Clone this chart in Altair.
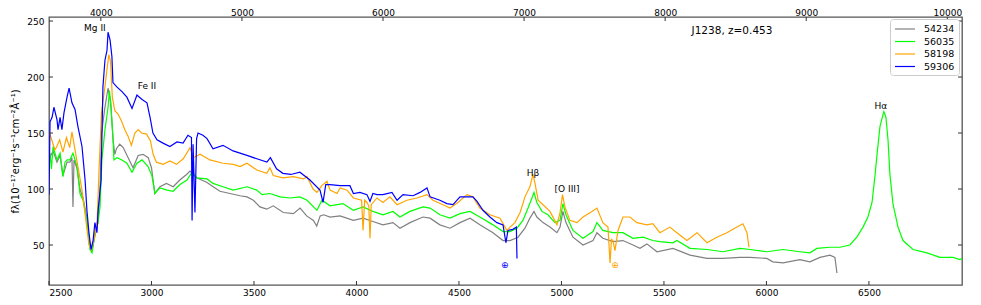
import altair as alt
import pandas as pd

Z = 1.453  # redshift factor (1+z)

mjd_labels = ["54234", "56035", "58198", "59306"]
line_colors = ["#808080", "#00ff00", "#ffa500", "#0000ff"]

# (rest wavelength [A], flux)
spec_54234 = [
    (2503, 128), (2520, 134), (2539, 124), (2554, 130), (2568, 112), (2588, 124), (2602, 124),
    (2612, 128), (2617, 84), (2622, 126), (2637, 118), (2651, 100), (2666, 92), (2685, 74),
    (2700, 48), (2710, 45), (2724, 58), (2739, 70), (2749, 100), (2756, 149), (2772, 172),
    (2788, 190), (2801, 178), (2813, 143), (2821, 131), (2829, 136), (2845, 140), (2862, 137),
    (2886, 128), (2910, 119), (2935, 130), (2959, 131), (2984, 128), (3000, 119), (3016, 96),
    (3041, 102), (3073, 105), (3106, 102), (3138, 108), (3171, 113), (3188, 116), (3220, 110),
    (3269, 106), (3301, 102), (3334, 98), (3383, 96), (3432, 94), (3466, 93), (3497, 90),
    (3529, 84), (3562, 82), (3594, 85), (3643, 79), (3692, 78), (3725, 83), (3757, 76),
    (3790, 72), (3806, 67), (3823, 76), (3840, 77), (3871, 75), (3920, 76), (3985, 72),
    (4032, 74), (4080, 71), (4129, 68), (4178, 70), (4212, 65), (4261, 70), (4324, 75),
    (4359, 74), (4407, 68), (4456, 65), (4505, 70), (4554, 74), (4602, 68), (4666, 61),
    (4715, 54), (4749, 54), (4788, 57), (4822, 65), (4846, 74), (4866, 80), (4880, 75),
    (4910, 70), (4944, 66), (4978, 61), (4993, 66), (5007, 80), (5022, 70), (5056, 57),
    (5105, 50), (5154, 54), (5173, 61), (5202, 56), (5251, 53), (5300, 54), (5349, 50),
    (5383, 47), (5417, 51), (5466, 44), (5544, 47), (5627, 41), (5710, 38), (5788, 38),
    (5871, 39), (5920, 39), (6002, 38), (6031, 35), (6081, 34), (6163, 37), (6212, 35),
    (6261, 39), (6310, 41), (6334, 39), (6344, 25),
]

spec_56035 = [
    (2505, 132), (2512, 118), (2520, 138), (2539, 126), (2554, 132), (2568, 111), (2578, 124),
    (2588, 126), (2602, 126), (2617, 132), (2637, 120), (2651, 96), (2666, 90), (2685, 72),
    (2700, 46), (2710, 43), (2724, 61), (2739, 70), (2749, 84), (2758, 126), (2773, 153),
    (2788, 173), (2795, 188), (2802, 173), (2812, 146), (2817, 126), (2832, 128), (2856, 126),
    (2880, 123), (2905, 115), (2929, 123), (2954, 126), (2983, 120), (3002, 112), (3017, 96),
    (3041, 101), (3076, 99), (3105, 98), (3139, 104), (3173, 108), (3198, 115), (3222, 110),
    (3271, 109), (3300, 105), (3349, 102), (3398, 99), (3466, 102), (3514, 99), (3539, 95),
    (3578, 96), (3627, 93), (3676, 92), (3724, 93), (3759, 90), (3807, 81), (3832, 90),
    (3871, 85), (3934, 87), (3985, 81), (4032, 84), (4080, 80), (4129, 77), (4178, 80),
    (4212, 75), (4261, 80), (4324, 84), (4359, 83), (4407, 77), (4456, 74), (4505, 78),
    (4554, 80), (4602, 75), (4666, 68), (4715, 62), (4749, 62), (4783, 65), (4812, 72),
    (4837, 83), (4856, 92), (4866, 97), (4880, 88), (4905, 80), (4934, 77), (4968, 70),
    (4993, 72), (5007, 87), (5022, 77), (5056, 63), (5105, 56), (5154, 62), (5173, 70),
    (5202, 63), (5251, 61), (5300, 61), (5349, 56), (5398, 57), (5446, 54), (5480, 53),
    (5544, 52), (5563, 54), (5627, 47), (5710, 46), (5788, 44), (5871, 47), (5920, 46),
    (6002, 44), (6081, 46), (6163, 44), (6212, 43), (6246, 47), (6310, 48), (6359, 48),
    (6407, 50), (6441, 57), (6471, 66), (6495, 75), (6515, 88), (6529, 111), (6539, 130),
    (6554, 156), (6568, 166), (6573, 169), (6583, 164), (6593, 144), (6602, 114), (6617, 87),
    (6642, 66), (6666, 54), (6715, 46), (6783, 43), (6846, 39), (6910, 39), (6944, 37),
    (6954, 38),
]

spec_58198 = [
    (2503, 150), (2520, 140), (2529, 135), (2536, 137), (2552, 144), (2568, 133), (2585, 146),
    (2601, 137), (2612, 151), (2627, 135), (2641, 120), (2661, 99), (2676, 78), (2695, 50),
    (2707, 46), (2723, 58), (2735, 72), (2744, 116), (2756, 168), (2772, 190), (2783, 207),
    (2792, 220), (2800, 214), (2809, 182), (2821, 170), (2837, 167), (2853, 161), (2870, 153),
    (2886, 147), (2902, 139), (2919, 150), (2935, 153), (2951, 150), (2976, 149), (2995, 143),
    (3008, 131), (3024, 124), (3057, 122), (3090, 125), (3122, 122), (3155, 127), (3188, 137),
    (3204, 128), (3237, 131), (3285, 126), (3349, 123), (3399, 122), (3432, 120), (3466, 123),
    (3514, 117), (3562, 114), (3578, 119), (3594, 112), (3641, 110), (3692, 111), (3741, 109),
    (3759, 111), (3788, 100), (3807, 97), (3831, 103), (3856, 107), (3871, 99), (3905, 96),
    (3920, 101), (3954, 99), (3985, 92), (4025, 90), (4032, 63), (4040, 90), (4051, 88),
    (4060, 85), (4066, 56), (4072, 86), (4100, 92), (4129, 88), (4163, 93), (4198, 86),
    (4246, 90), (4295, 92), (4344, 95), (4373, 90), (4422, 86), (4456, 83), (4495, 88),
    (4539, 95), (4568, 93), (4602, 83), (4651, 77), (4700, 74), (4734, 63), (4749, 66),
    (4773, 70), (4798, 79), (4822, 93), (4846, 102), (4861, 113), (4871, 105), (4886, 90),
    (4910, 86), (4944, 80), (4978, 68), (4993, 79), (5005, 95), (5017, 84), (5041, 72),
    (5076, 70), (5105, 75), (5149, 80), (5173, 83), (5202, 70), (5227, 66), (5237, 34),
    (5244, 55), (5251, 54), (5261, 45), (5276, 63), (5300, 75), (5334, 75), (5368, 70),
    (5417, 68), (5446, 69), (5480, 61), (5529, 66), (5563, 61), (5612, 54), (5661, 61),
    (5710, 52), (5758, 57), (5807, 61), (5856, 66), (5885, 69), (5905, 61), (5915, 48),
]

spec_59306 = [
    (2500, 95), (2505, 160), (2515, 164), (2524, 173), (2539, 162), (2544, 153), (2554, 164),
    (2563, 153), (2573, 168), (2588, 182), (2598, 190), (2612, 177), (2627, 171), (2641, 156),
    (2661, 138), (2676, 108), (2685, 81), (2695, 61), (2705, 46), (2715, 54), (2724, 70),
    (2734, 61), (2739, 80), (2754, 108), (2763, 191), (2773, 215), (2783, 224), (2788, 240),
    (2798, 233), (2807, 218), (2812, 195), (2832, 191), (2856, 187), (2880, 182), (2905, 172),
    (2929, 184), (2954, 180), (2978, 177), (2993, 164), (3007, 150), (3027, 144), (3056, 141),
    (3090, 138), (3124, 142), (3154, 141), (3178, 148), (3195, 146), (3198, 72), (3203, 140),
    (3212, 79), (3220, 145), (3227, 150), (3251, 148), (3271, 145), (3300, 136), (3349, 139),
    (3398, 134), (3432, 132), (3466, 130), (3514, 127), (3563, 124), (3580, 128), (3610, 118),
    (3641, 114), (3680, 113), (3724, 115), (3773, 108), (3822, 99), (3837, 88), (3850, 104),
    (3871, 104), (3920, 103), (3968, 103), (3985, 96), (4017, 97), (4051, 95), (4066, 89),
    (4080, 96), (4100, 95), (4129, 95), (4173, 97), (4198, 90), (4227, 95), (4276, 94),
    (4310, 97), (4344, 101), (4359, 93), (4407, 90), (4441, 87), (4471, 86), (4505, 93),
    (4539, 93), (4568, 93), (4588, 89), (4617, 81), (4651, 75), (4685, 70), (4715, 68),
    (4729, 52), (4739, 63), (4763, 64), (4780, 66), (4783, 38),
]

spectra = [spec_54234, spec_56035, spec_58198, spec_59306]

# line labels: (text, rest wavelength, flux)
line_labels = [
    ("Mg II", 2724, 244), ("Fe II", 2978, 192), ("H\u03b2", 4861, 114),
    ("[O III]", 5027, 100), ("H\u03b1", 6558, 174),
]
telluric = [("\u2295", 4724, 32, "#0000ff"), ("\u2295", 5261, 32, "#ffa500")]
obj_label = [("J1238, z=0.453", 5832, 241)]

xticks_bottom = [2500, 3000, 3500, 4000, 4500, 5000, 5500, 6000, 6500]
xticks_top_obs = [4000, 5000, 6000, 7000, 8000, 9000, 10000]
yticks = [50, 100, 150, 200, 250]

W, H = 913, 268
FONT = "DejaVu Sans"
xs = alt.Scale(domain=[2500, 6954], nice=False, zero=False)
ys = alt.Scale(domain=[14.3, 253.6], nice=False, zero=False)
cs = alt.Scale(domain=mjd_labels, range=line_colors)

rows = []
for name, spec in zip(mjd_labels, spectra):
    for w, f in spec:
        rows.append({"mjd": name, "wave": w, "flux": f})
df = pd.DataFrame(rows)

legend = alt.Legend(
    title=None, orient="none", legendX=841, legendY=2,
    symbolType="M-1,0L3,0", symbolSize=100, symbolStrokeWidth=1.2,
    labelFont=FONT, labelFontSize=9.5, labelColor="black", labelOffset=18,
    fillColor="white", strokeColor="#cccccc", cornerRadius=3, padding=4, rowPadding=1.5,
)

layers = []
for name in mjd_labels:
    layers.append(
        alt.Chart(df).transform_filter(alt.datum.mjd == name)
        .mark_line(strokeWidth=1.2, clip=True)
        .encode(
            x=alt.X("wave:Q", scale=xs, axis=None),
            y=alt.Y("flux:Q", scale=ys, axis=None),
            color=alt.Color("mjd:N", scale=cs, legend=legend),
        )
    )

df_xb = pd.DataFrame({"v": xticks_bottom})
df_xt = pd.DataFrame({"v": [t / Z for t in xticks_top_obs]})
df_y = pd.DataFrame({"v": yticks})

bottom_ticks = alt.Chart(df_xb).mark_rule(color="#333", strokeWidth=1).encode(
    x=alt.X("v:Q", scale=xs, axis=alt.Axis(
        orient="bottom", values=xticks_bottom, format="d", title=None,
        labelPadding=3, labelFontSize=9, labelFont=FONT, labelColor="black")),
    y=alt.value(H - 4), y2=alt.value(H),
)
top_ticks = alt.Chart(df_xt).mark_rule(color="#333", strokeWidth=1).encode(
    x=alt.X("v:Q", scale=xs, axis=alt.Axis(
        orient="top", values=[t / Z for t in xticks_top_obs], title=None,
        labelExpr="format(round(datum.value*1.453), 'd')",
        labelPadding=2, labelBaseline="alphabetic",
        labelFontSize=9, labelFont=FONT, labelColor="black")),
    y=alt.value(0), y2=alt.value(4),
)
left_ticks = alt.Chart(df_y).mark_rule(color="#333", strokeWidth=1).encode(
    y=alt.Y("v:Q", scale=ys, axis=alt.Axis(
        orient="left", values=yticks, format="d",
        title="f\u03bb(10\u207b\u00b9\u2077erg\u207b\u00b9s\u207b\u00b9cm\u207b\u00b2\u00c5\u207b\u00b9)",
        titleFont=FONT, titleFontSize=10, titleFontWeight="normal", titleColor="black",
        titlePadding=6, labelPadding=5, labelFontSize=9, labelFont=FONT, labelColor="black")),
    x=alt.value(0), x2=alt.value(4),
)
right_ticks = alt.Chart(df_y).mark_rule(color="#333", strokeWidth=1).encode(
    y=alt.Y("v:Q", scale=ys, axis=None),
    x=alt.value(W - 4), x2=alt.value(W),
)

df_lab = pd.DataFrame(line_labels, columns=["t", "x", "y"])
labels = alt.Chart(df_lab).mark_text(font=FONT, fontSize=9, color="black").encode(
    x=alt.X("x:Q", scale=xs, axis=None), y=alt.Y("y:Q", scale=ys, axis=None), text="t:N")

df_tel = pd.DataFrame(telluric, columns=["t", "x", "y", "c"])
tel = alt.Chart(df_tel).mark_text(font=FONT, fontSize=9).encode(
    x=alt.X("x:Q", scale=xs, axis=None), y=alt.Y("y:Q", scale=ys, axis=None), text="t:N",
    color=alt.Color("c:N", scale=None))

df_obj = pd.DataFrame(obj_label, columns=["t", "x", "y"])
obj = alt.Chart(df_obj).mark_text(font=FONT, fontSize=10.5, color="black").encode(
    x=alt.X("x:Q", scale=xs, axis=None), y=alt.Y("y:Q", scale=ys, axis=None), text="t:N")

chart = (
    alt.layer(*layers, labels, tel, obj, bottom_ticks, top_ticks, left_ticks, right_ticks)
    .resolve_axis(x="independent", y="independent")
    .properties(
        width=W, height=H,
        padding={"left": 41, "top": 9, "right": 11, "bottom": 12},
        autosize=alt.AutoSizeParams(type="none"),
    )
    .configure_view(stroke="#555555", strokeWidth=1.3)
    .configure_axis(grid=False, domain=False, ticks=False)
)

chart.save("out.html", embed_options={"renderer": "svg", "actions": False})
